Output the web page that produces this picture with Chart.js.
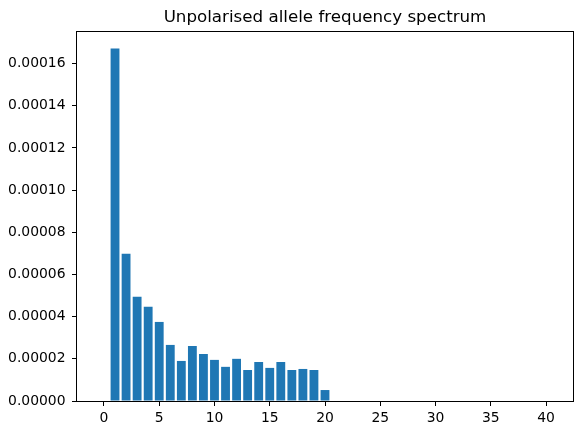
<!DOCTYPE html>
<html lang="en">
<head>
  <meta charset="UTF-8">
  <title>Unpolarised allele frequency spectrum</title>
  <script src="https://cdn.jsdelivr.net/npm/chart.js"></script>
  <style>
    body {
      margin: 0;
      background: #ffffff;
    }
    #wrap {
      width: 582px;
      height: 435px;
    }
  </style>
</head>
<body>
  <div id="wrap">
    <canvas id="grafico" width="582" height="435"></canvas>
  </div>

  <script>
    // allele count (x) and its frequency (y)
    const alleleCounts = [0, 1, 2, 3, 4, 5, 6, 7, 8, 9, 10,
      11, 12, 13, 14, 15, 16, 17, 18, 19, 20,
      21, 22, 23, 24, 25, 26, 27, 28, 29, 30,
      31, 32, 33, 34, 35, 36, 37, 38, 39, 40];
    const frequencies = [0, 0.0001672, 0.0000698, 0.0000494, 0.0000447, 0.0000375,
      0.0000266, 0.0000190, 0.0000261, 0.0000223, 0.0000195,
      0.0000162, 0.0000200, 0.0000147, 0.0000185, 0.0000157,
      0.0000185, 0.0000147, 0.0000152, 0.0000147, 0.0000052,
      0, 0, 0, 0, 0, 0, 0, 0, 0, 0,
      0, 0, 0, 0, 0, 0, 0, 0, 0, 0];
    const xTicks = [0, 5, 10, 15, 20, 25, 30, 35, 40];
    const yTicks = [0, 0.00002, 0.00004, 0.00006, 0.00008, 0.0001, 0.00012, 0.00014, 0.00016];

    const fonte = "'DejaVu Sans', sans-serif";

    // frame round the plot area, like matplotlib's spines
    const moldura = {
      id: 'moldura',
      afterDraw(chart) {
        const a = chart.chartArea;
        const ctx = chart.ctx;
        ctx.save();
        ctx.strokeStyle = '#000';
        ctx.lineWidth = 1;
        ctx.strokeRect(Math.round(a.left) - 0.5, Math.round(a.top) - 0.5,
          Math.round(a.right - a.left) + 1, Math.round(a.bottom - a.top) + 1);
        ctx.restore();
      }
    };

    const pontos = alleleCounts.map((x, i) => ({ x: x, y: frequencies[i] }));

    new Chart(document.getElementById('grafico'), {
      type: 'bar',
      data: {
        datasets: [{
          data: pontos,
          backgroundColor: '#1f77b4',
          borderWidth: 0,
          barPercentage: 0.8,
          categoryPercentage: 1.0
        }]
      },
      options: {
        responsive: false,
        animation: false,
        layout: { padding: { left: 0, right: 9, top: 0, bottom: 0 } },
        plugins: {
          legend: { display: false },
          tooltip: { enabled: false },
          title: {
            display: true,
            fullSize: false,
            text: 'Unpolarised allele frequency spectrum',
            color: '#000',
            font: { family: fonte, size: 16.7, weight: 'normal', lineHeight: 1.2 },
            padding: { top: 8, bottom: 4 }
          }
        },
        scales: {
          x: {
            type: 'linear',
            offset: false,
            min: -2.44,
            max: 42.44,
            afterFit(scale) { scale.height = 34; },
            afterBuildTicks(scale) { scale.ticks = xTicks.map(v => ({ value: v })); },
            ticks: {
              includeBounds: false,
              color: '#000',
              padding: 4,
              maxRotation: 0,
              font: { family: fonte, size: 13.9 },
              callback: v => String(v)
            },
            grid: {
              display: true,
              offset: false,
              drawOnChartArea: false,
              drawTicks: true,
              tickLength: 5,
              color: '#000'
            },
            border: { display: false }
          },
          y: {
            min: 0,
            max: 0.000175,
            afterFit(scale) { scale.width = 77; },
            afterBuildTicks(scale) { scale.ticks = yTicks.map(v => ({ value: v })); },
            ticks: {
              includeBounds: false,
              color: '#000',
              padding: 6.5,
              font: { family: fonte, size: 13.9 },
              callback: v => v.toFixed(5)
            },
            grid: {
              display: true,
              drawOnChartArea: false,
              drawTicks: true,
              tickLength: 5,
              color: '#000'
            },
            border: { display: false }
          }
        }
      },
      plugins: [moldura]
    });
  </script>
</body>
</html>
